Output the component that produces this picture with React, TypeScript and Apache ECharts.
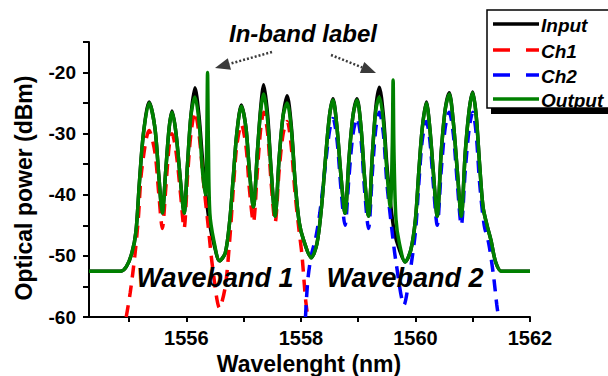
import React, { useEffect, useRef } from "react";
import * as echarts from "echarts";

const FONT = "'Liberation Sans', Arial, sans-serif";

const seriesNames = ["Input", "Ch1", "Ch2", "Output"];
const seriesColors = ["#000000", "#ff0000", "#0000ff", "#008000"];

const xTickValues = [1555, 1556, 1557, 1558, 1559, 1560, 1561, 1562];
const xLabelValues = [1556, 1558, 1560, 1562];
const yTickValues = [-60, -55, -50, -45, -40, -35, -30, -25, -20, -15];
const yLabelValues = [-60, -50, -40, -30, -20];

// Input (black)
const inputData: [number, number][] = [
  [1554.3, -52.5], [1554.85, -52.5], [1554.95, -51.8], [1555.05, -49.5], [1555.12, -46],
  [1555.18, -38], [1555.25, -30], [1555.35, -24.8], [1555.45, -29], [1555.52, -37],
  [1555.58, -43], [1555.64, -36], [1555.7, -29], [1555.75, -26.3], [1555.82, -30],
  [1555.9, -38], [1555.96, -43], [1556.02, -35], [1556.08, -27], [1556.15, -22.5],
  [1556.22, -27], [1556.28, -34], [1556.34, -40], [1556.41, -45], [1556.48, -48],
  [1556.58, -50.8], [1556.68, -49.5], [1556.76, -44], [1556.82, -37], [1556.88, -30],
  [1556.96, -25.3], [1557.04, -29], [1557.1, -36], [1557.17, -42], [1557.24, -33],
  [1557.3, -25.5], [1557.35, -22], [1557.42, -27], [1557.48, -36], [1557.55, -43.5],
  [1557.62, -34], [1557.69, -27], [1557.76, -23.8], [1557.83, -28.5], [1557.9, -38],
  [1557.97, -44.5], [1558.05, -47.5], [1558.18, -50.3], [1558.28, -48], [1558.36, -42],
  [1558.43, -34], [1558.5, -27], [1558.56, -24.3], [1558.63, -29], [1558.7, -37],
  [1558.77, -43], [1558.84, -34], [1558.91, -27], [1558.98, -24.3], [1559.05, -29],
  [1559.11, -37], [1559.18, -43.5], [1559.25, -33], [1559.31, -25.5], [1559.37, -22.4],
  [1559.44, -27], [1559.5, -35], [1559.56, -41], [1559.63, -46], [1559.72, -49],
  [1559.82, -51], [1559.92, -49], [1560.0, -44], [1560.06, -36], [1560.12, -29],
  [1560.19, -24.8], [1560.25, -29], [1560.31, -36], [1560.38, -43.5], [1560.45, -33],
  [1560.52, -26], [1560.59, -23.3], [1560.66, -28], [1560.73, -36], [1560.8, -43.5],
  [1560.87, -33], [1560.94, -26], [1561.0, -23.2], [1561.06, -27], [1561.12, -35],
  [1561.18, -42], [1561.25, -45], [1561.32, -47.5], [1561.4, -51], [1561.5, -52.5],
  [1562.0, -52.5],
];

// Ch1 (red, dashed)
const ch1Data: [number, number][] = [
  [1554.95, -60], [1555.02, -56], [1555.1, -50], [1555.16, -44], [1555.22, -36],
  [1555.35, -29.5], [1555.45, -33], [1555.52, -40], [1555.58, -45.5], [1555.64, -39],
  [1555.7, -32], [1555.75, -30], [1555.82, -33], [1555.9, -40], [1555.96, -45.5],
  [1556.02, -37], [1556.08, -30], [1556.15, -26.5], [1556.22, -30], [1556.3, -38],
  [1556.38, -45], [1556.46, -52], [1556.58, -58.5], [1556.68, -55], [1556.76, -47],
  [1556.82, -39], [1556.88, -32], [1556.96, -28.5], [1557.04, -32], [1557.1, -39],
  [1557.17, -44.5], [1557.24, -36], [1557.3, -29], [1557.35, -26.5], [1557.42, -30],
  [1557.48, -38], [1557.55, -44.5], [1557.62, -36], [1557.69, -30], [1557.76, -28],
  [1557.83, -32], [1557.9, -40], [1557.97, -46], [1558.02, -50], [1558.08, -57],
  [1558.12, -60],
];

// Ch2 (blue, dashed)
const ch2Data: [number, number][] = [
  [1558.08, -60], [1558.12, -54], [1558.18, -50], [1558.26, -47], [1558.33, -43],
  [1558.43, -35], [1558.5, -29.5], [1558.56, -27.5], [1558.63, -31], [1558.7, -39],
  [1558.77, -45], [1558.84, -37], [1558.91, -30], [1558.98, -27.5], [1559.05, -31],
  [1559.11, -39], [1559.18, -45.5], [1559.25, -36], [1559.31, -29], [1559.37, -26.5],
  [1559.44, -30], [1559.5, -38], [1559.58, -45], [1559.66, -51], [1559.8, -58],
  [1559.9, -53], [1560.0, -46], [1560.06, -38], [1560.12, -31], [1560.19, -28],
  [1560.25, -31], [1560.31, -38], [1560.38, -45], [1560.45, -36], [1560.52, -29],
  [1560.59, -26.5], [1560.66, -30], [1560.73, -38], [1560.8, -45], [1560.87, -36],
  [1560.94, -29], [1561.0, -26.5], [1561.06, -30], [1561.12, -38], [1561.2, -45],
  [1561.28, -48], [1561.36, -53], [1561.42, -58], [1561.45, -60],
];

// Output (green)
const outputData: [number, number][] = [
  [1554.3, -52.5], [1554.85, -52.5], [1554.95, -51.8], [1555.05, -49.5], [1555.12, -46],
  [1555.18, -38], [1555.25, -30], [1555.35, -25], [1555.45, -29], [1555.52, -37],
  [1555.58, -43], [1555.64, -36], [1555.7, -29], [1555.75, -26.5], [1555.82, -30],
  [1555.9, -38], [1555.96, -43], [1556.02, -35], [1556.08, -27], [1556.15, -24],
  [1556.22, -28], [1556.28, -36], [1556.33, -40], [1556.355, -32], [1556.37, -20],
  [1556.385, -32], [1556.41, -43], [1556.48, -47.5], [1556.58, -50.8], [1556.68, -49.5],
  [1556.76, -44], [1556.82, -37], [1556.88, -30], [1556.96, -25.5], [1557.04, -29],
  [1557.1, -36], [1557.17, -42], [1557.24, -33], [1557.3, -26], [1557.35, -23.5],
  [1557.42, -28], [1557.48, -36], [1557.55, -43.5], [1557.62, -34], [1557.69, -27],
  [1557.76, -25], [1557.83, -29], [1557.9, -38], [1557.97, -44.5], [1558.05, -47.5],
  [1558.18, -50.3], [1558.28, -48], [1558.36, -42], [1558.43, -34], [1558.5, -27],
  [1558.56, -24.5], [1558.63, -29], [1558.7, -37], [1558.77, -43], [1558.84, -34],
  [1558.91, -27], [1558.98, -24.5], [1559.05, -29], [1559.11, -37], [1559.18, -43.5],
  [1559.25, -33], [1559.31, -26], [1559.37, -24], [1559.44, -28], [1559.5, -36],
  [1559.56, -42], [1559.595, -32], [1559.61, -21.2], [1559.625, -33], [1559.66, -44],
  [1559.72, -48], [1559.82, -51], [1559.92, -49], [1560.0, -44], [1560.06, -36],
  [1560.12, -29], [1560.19, -25], [1560.25, -29], [1560.31, -36], [1560.38, -43.5],
  [1560.45, -33], [1560.52, -26], [1560.59, -23.5], [1560.66, -28], [1560.73, -36],
  [1560.8, -43.5], [1560.87, -33], [1560.94, -26], [1561.0, -23.3], [1561.06, -27],
  [1561.12, -35], [1561.18, -42], [1561.25, -45], [1561.32, -47.5], [1561.4, -51],
  [1561.5, -52.5], [1562.0, -52.5],
];

const allData = [inputData, ch1Data, ch2Data, outputData];
const dashed = [false, true, true, false];

export default function App() {
  const ref = useRef<HTMLDivElement>(null);
  useEffect(() => {
    if (!ref.current) return;
    const chart = echarts.init(ref.current, undefined, { renderer: "svg" });
    const arrowColor = "#3a3a3a";

    // Legend drawn with graphic elements
    const legendX = 487;
    const legendY = 10;
    const rowY = [24, 50, 75, 99];
    const legendGraphics: any[] = [
      {
        type: "rect",
        shape: { x: legendX + 4, y: legendY + 97, width: 140, height: 7 },
        style: { fill: "#000" },
        z: 20,
      },
      {
        type: "rect",
        shape: { x: legendX, y: legendY, width: 140, height: 98 },
        style: { fill: "#fff", stroke: "#000", lineWidth: 1.5 },
        z: 21,
      },
    ];
    seriesNames.forEach((n, i) => {
      legendGraphics.push({
        type: "line",
        shape: { x1: legendX + 6, y1: rowY[i], x2: legendX + 52, y2: rowY[i] },
        style: {
          stroke: seriesColors[i],
          lineWidth: 3.5,
          lineDash: dashed[i] ? [17, 16] : null,
        },
        z: 22,
      });
      legendGraphics.push({
        type: "text",
        x: legendX + 54,
        y: rowY[i] + 1,
        style: {
          text: n,
          font: `italic bold 19px ${FONT}`,
          fill: "#000",
          align: "left",
          verticalAlign: "middle",
        },
        z: 22,
      });
    });

    const option: any = {
      animation: false,
      backgroundColor: "#ffffff",
      grid: { left: 89, right: 78, top: 42, bottom: 59, containLabel: false },
      xAxis: {
        type: "value",
        min: 1554.3,
        max: 1562,
        axisLine: { show: true, onZero: false, lineStyle: { color: "#000", width: 2 } },
        axisTick: {
          show: true,
          inside: false,
          length: 5,
          customValues: xTickValues,
          lineStyle: { color: "#000", width: 2 },
        },
        axisLabel: {
          customValues: xLabelValues,
          margin: 11,
          color: "#000",
          fontFamily: FONT,
          fontWeight: "bold",
          fontSize: 20,
          formatter: (v: number) => String(Math.round(v)),
        },
        splitLine: { show: false },
      },
      yAxis: {
        type: "value",
        min: -60,
        max: -15,
        axisLine: { show: true, onZero: false, lineStyle: { color: "#000", width: 2 } },
        axisTick: {
          show: true,
          inside: false,
          length: 6,
          customValues: yTickValues,
          lineStyle: { color: "#000", width: 2 },
        },
        axisLabel: {
          customValues: yLabelValues,
          margin: 13,
          color: "#000",
          fontFamily: FONT,
          fontWeight: "bold",
          fontSize: 19,
        },
        splitLine: { show: false },
      },
      series: seriesNames.map((name, i) => ({
        name,
        type: "line",
        data: allData[i],
        symbol: "none",
        showSymbol: false,
        clip: true,
        smooth: 0.3,
        color: seriesColors[i],
        lineStyle: {
          color: seriesColors[i],
          width: 3.5,
          type: dashed[i] ? [12, 8] : "solid",
        },
        z: 2 + i,
      })),
      graphic: [
        {
          type: "text",
          x: 24,
          y: 188,
          rotation: Math.PI / 2,
          style: {
            text: "Optical power (dBm)",
            font: `bold 23px ${FONT}`,
            fill: "#000",
            align: "center",
            verticalAlign: "middle",
          },
          z: 10,
        },
        {
          type: "text",
          x: 309,
          y: 364,
          style: {
            text: "Wavelenght (nm)",
            font: `bold 23px ${FONT}`,
            fill: "#000",
            align: "center",
            verticalAlign: "middle",
          },
          z: 10,
        },
        {
          type: "text",
          x: 303,
          y: 33,
          style: {
            text: "In-band label",
            font: `italic bold 24px ${FONT}`,
            fill: "#000",
            align: "center",
            verticalAlign: "middle",
          },
          z: 10,
        },
        {
          type: "text",
          x: 215,
          y: 278,
          style: {
            text: "Waveband 1",
            font: `italic bold 27px ${FONT}`,
            fill: "#000",
            align: "center",
            verticalAlign: "middle",
          },
          z: 10,
        },
        {
          type: "text",
          x: 405,
          y: 278,
          style: {
            text: "Waveband 2",
            font: `italic bold 27px ${FONT}`,
            fill: "#000",
            align: "center",
            verticalAlign: "middle",
          },
          z: 10,
        },
        {
          type: "line",
          shape: { x1: 272, y1: 52, x2: 229.4, y2: 63.9 },
          style: { stroke: arrowColor, lineWidth: 2.5, lineDash: [2, 2] },
          z: 10,
        },
        {
          type: "polygon",
          shape: { points: [[215, 68], [231.0, 69.7], [227.8, 58.2]] },
          style: { fill: arrowColor },
          z: 10,
        },
        {
          type: "line",
          shape: { x1: 331, y1: 55, x2: 362.1, y2: 67.4 },
          style: { stroke: arrowColor, lineWidth: 2.5, lineDash: [2, 2] },
          z: 10,
        },
        {
          type: "polygon",
          shape: { points: [[376, 73], [359.9, 73.0], [364.3, 61.9]] },
          style: { fill: arrowColor },
          z: 10,
        },
        ...legendGraphics,
      ],
    };
    chart.setOption(option);
    return () => chart.dispose();
  }, []);
  return (
    <div
      ref={ref}
      style={{ position: "fixed", left: 0, top: 0, width: 608, height: 376, background: "#fff" }}
    />
  );
}
